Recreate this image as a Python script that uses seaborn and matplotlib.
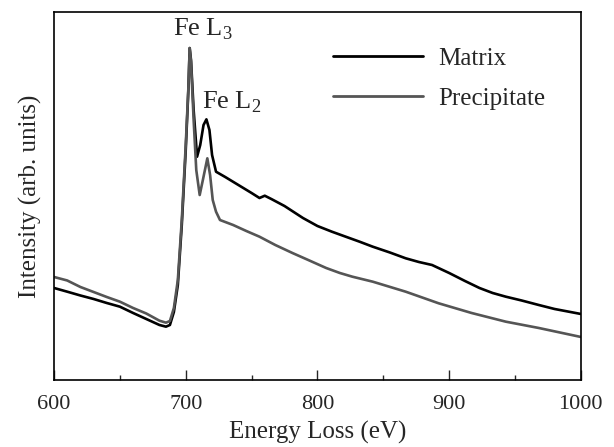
import numpy as np
import pandas as pd
import matplotlib
matplotlib.use("Agg")
import matplotlib.pyplot as plt
import seaborn as sns

# Spectres EELS (unites arbitraires)
energy_matrix = [600, 610, 620, 630, 640, 650, 660, 670, 680, 685, 688, 691, 694, 697,
                 700, 702, 703, 704, 706, 708.6, 711, 713.5, 715.7, 718, 720, 723, 730,
                 740, 750, 756, 760, 765, 775, 789, 800, 811, 820, 832, 842, 855, 867,
                 877, 887, 900, 912, 923, 933, 943, 955, 968, 980, 990, 1000]
intensity_matrix = [92, 88.3, 84.5, 81, 77, 73.3, 67, 61, 55, 53.3, 55, 68, 95, 155,
                    230, 290, 332, 320, 270, 223.3, 235, 255, 260.7, 250, 225, 208.3, 203,
                    195, 187, 182, 184.3, 181, 174, 162, 154, 148.3, 144, 138.3, 133.3, 127.5, 121.7,
                    118, 115, 107, 99, 92, 87, 83.3, 79.5, 75, 71, 68.5, 66]

energy_precip = [600, 610, 620, 630, 640, 650, 660, 670, 680, 685, 688, 691, 694, 697,
                 700, 702, 703, 704, 706, 708, 710.6, 713, 716.4, 718.5, 720.5, 723, 726,
                 736, 746, 756, 768, 781, 793, 806.6, 817, 826.5, 842, 867, 892, 917,
                 943, 968, 1000]
intensity_precip = [103, 99.5, 93, 88, 83, 78.3, 72, 66.5, 59.3, 57.3, 59, 72, 100, 160,
                    235, 292, 332, 318, 260, 210, 185, 200, 221.7, 205, 180, 168.3, 160,
                    155, 149, 143.3, 135, 127, 120, 112, 107, 103.3, 98.3, 88.3, 76.7, 67,
                    58.3, 52, 43]

labels = ["Matrix", "Precipitate"]
colors = {"Matrix": "#000000", "Precipitate": "#555555"}

df = pd.concat([
    pd.DataFrame({"Energy": energy_matrix, "Intensity": intensity_matrix, "Sample": labels[0]}),
    pd.DataFrame({"Energy": energy_precip, "Intensity": intensity_precip, "Sample": labels[1]}),
])

sns.set_style("ticks")
plt.rcParams["font.family"] = ["Liberation Serif", "DejaVu Serif"]
plt.rcParams["mathtext.fontset"] = "custom"
plt.rcParams["mathtext.rm"] = "Liberation Serif"

fig = plt.figure(figsize=(6.14, 4.47), dpi=100)
ax = fig.add_axes([0.088, 0.150, 0.858, 0.823])

sns.lineplot(data=df, x="Energy", y="Intensity", hue="Sample", palette=colors,
             linewidth=1.9, sort=False, ax=ax)

ax.set_xlim(600, 1000)
ax.set_ylim(0, 368)
ax.set_yticks([])
ax.set_xticks([600, 700, 800, 900, 1000])
ax.set_xticks([650, 750, 850, 950], minor=True)
ax.tick_params(axis="x", which="major", direction="in", length=7, width=1, labelsize=16, pad=11)
ax.tick_params(axis="x", which="minor", direction="in", length=3.5, width=1)
for s in ax.spines.values():
    s.set_linewidth(1.2)
    s.set_color("black")
    s.set_visible(True)

ax.set_xlabel("Energy Loss (eV)", fontsize=18, labelpad=5)
ax.set_ylabel("Intensity (arb. units)", fontsize=18, labelpad=9)

ax.text(713, 338, r"Fe L$_\mathrm{3}$", fontsize=19, ha="center", va="bottom")
ax.text(712, 265, r"Fe L$_\mathrm{2}$", fontsize=19, ha="left", va="bottom")

leg = ax.legend(title=None, frameon=False, fontsize=18, handlelength=3.6,
                loc="upper right", bbox_to_anchor=(0.975, 0.965), labelspacing=0.7,
                handletextpad=0.6)
for line in leg.get_lines():
    line.set_linewidth(2.0)

fig.savefig("out.png", dpi=100)
